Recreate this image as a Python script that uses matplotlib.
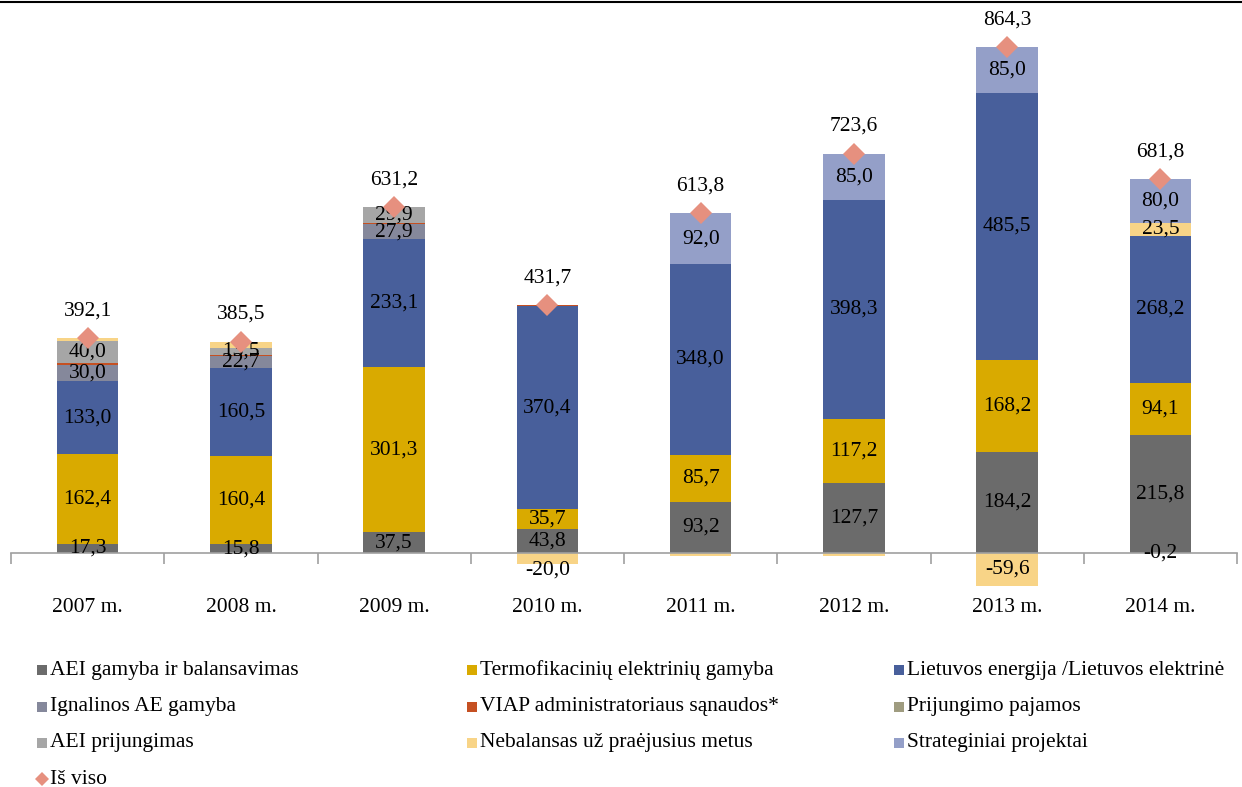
import matplotlib
matplotlib.use("Agg")
import matplotlib.pyplot as plt
from matplotlib.patches import Rectangle
from matplotlib.lines import Line2D
import numpy as np

plt.rcParams['font.family'] = ['Liberation Serif', 'DejaVu Serif']

years = ['2007 m.', '2008 m.', '2009 m.', '2010 m.', '2011 m.', '2012 m.', '2013 m.', '2014 m.']

aei_gamyba = [17.3, 15.8, 37.5, 43.8, 93.2, 127.7, 184.2, 215.8]
termofikacines = [162.4, 160.4, 301.3, 35.7, 85.7, 117.2, 168.2, 94.1]
lietuvos_energija = [133.0, 160.5, 233.1, 370.4, 348.0, 398.3, 485.5, 268.2]
ignalinos = [30.0, 22.7, 27.9, 0.0, 0.0, 0.0, 0.0, -0.2]
viap = [3.0, 1.6, 1.5, 1.8, 0.0, 0.0, 0.0, 0.0]
prijungimo_pajamos = [0.0, 0.0, 0.0, 0.0, 0.0, 0.0, 0.0, 0.0]
aei_prijungimas = [40.0, 13.5, 29.9, 0.0, 0.0, 0.0, 0.0, 0.0]
nebalansas = [6.4, 11.0, 0.0, -20.0, -5.1, -4.6, -59.6, 23.5]
strateginiai = [0.0, 0.0, 0.0, 0.0, 92.0, 85.0, 85.0, 80.0]
totals = [392.1, 385.5, 631.2, 431.7, 613.8, 723.6, 864.3, 681.8]

series_names = ['AEI gamyba ir balansavimas', 'Termofikacinių elektrinių gamyba',
                'Lietuvos energija /Lietuvos elektrinė', 'Ignalinos AE gamyba',
                'VIAP administratoriaus sąnaudos*', 'Prijungimo pajamos',
                'AEI prijungimas', 'Nebalansas už praėjusius metus', 'Strateginiai projektai']
total_name = 'Iš viso'

series = [aei_gamyba, termofikacines, lietuvos_energija, ignalinos, viap,
          prijungimo_pajamos, aei_prijungimas, nebalansas, strateginiai]
colors = ['#6b6b6b', '#d9aa00', '#485f9b', '#85889b', '#c55022',
          '#9f9c80', '#a6a6a6', '#f8d487', '#949fc8']
diamond_color = '#e6907f'

# labels hidden for tiny / overlapping segments: (series index, year index)
hidden = {(7, 0), (7, 1), (7, 4), (7, 5)}

W, H = 1242, 787
fig = plt.figure(figsize=(W / 100, H / 100), dpi=100)
ax_left, ax_right = 11, 1237
ax_top, ax_bottom = 0, 620
ax = fig.add_axes([ax_left / W, 1 - ax_bottom / H, (ax_right - ax_left) / W, (ax_bottom - ax_top) / H])

scale = 0.5486  # px per unit
zero_px = 553
ymax = (zero_px - ax_top) / scale
ymin = -(ax_bottom - zero_px) / scale
ax.set_ylim(ymin, ymax)
n = len(years)
ax.set_xlim(-0.5, n - 0.5)

x = np.arange(n)
bw = 0.4
pos_base = np.zeros(n)
neg_base = np.zeros(n)
FS = 15.5
for si, (vals, c) in enumerate(zip(series, colors)):
    vals = np.array(vals, dtype=float)
    bottoms = np.where(vals >= 0, pos_base, neg_base)
    ax.bar(x, vals, bw, bottom=bottoms, color=c, linewidth=0, zorder=2)
    for i, v in enumerate(vals):
        if v == 0:
            continue
        show = (abs(v) >= 12 or (v < 0 and si == 3)) and si != 4 and (si, i) not in hidden
        if show:
            yc = bottoms[i] + v / 2
            if si == 7 and v < 0 and abs(v) < 30:
                yc = bottoms[i] + v - 11
            ax.text(i, yc, f"{v:.1f}".replace('.', ','), ha='center', va='center',
                    fontsize=FS, color='black', zorder=5)
    pos_base = pos_base + np.where(vals >= 0, vals, 0)
    neg_base = neg_base + np.where(vals < 0, vals, 0)

# totals diamond at top of the positive stack
ax.plot(x, pos_base, linestyle='none', marker='D', markersize=11,
        color=diamond_color, markeredgewidth=0, zorder=6)
for i, t in enumerate(totals):
    ax.annotate(f"{t:.1f}".replace('.', ','), (i, pos_base[i]), xytext=(0, 27),
                textcoords='offset pixels', ha='center', va='center', fontsize=FS, zorder=6)

for s in ['top', 'left', 'right']:
    ax.spines[s].set_visible(False)
ax.spines['bottom'].set_position(('data', 0))
ax.spines['bottom'].set_color('#a0a0a0')
ax.spines['bottom'].set_linewidth(1.2)
ax.set_yticks([])
ax.set_xticks(x)
ax.set_xticklabels([])
ax.tick_params(axis='x', which='major', length=0)
ax.set_xticks(np.arange(n + 1) - 0.5, minor=True)
ax.tick_params(axis='x', which='minor', length=8, color='#a0a0a0', width=1.2, direction='out')
for i, yl in enumerate(years):
    fig.text((ax_left + (i + 0.5) * (ax_right - ax_left) / n) / W, 1 - 607 / H, yl,
             ha='center', va='center', fontsize=FS)

# top border line
fig.add_artist(Line2D([0, 1], [1 - 1.5 / H, 1 - 1.5 / H], color='black', linewidth=1.5))

# manual legend
col_x = [37, 467, 894]
row_y = [670, 707, 743, 779]
order = [[0, 1, 2], [3, 4, 5], [6, 7, 8]]
sq = 10
for r, row in enumerate(order):
    for c, si in enumerate(row):
        fig.add_artist(Rectangle((col_x[c] / W, 1 - (row_y[r] + sq / 2) / H), sq / W, sq / H,
                                 color=colors[si], linewidth=0))
        fig.text((col_x[c] + sq + 3) / W, 1 - row_y[r] / H, series_names[si],
                 ha='left', va='center', fontsize=FS)
fig.add_artist(Line2D([(col_x[0] + sq / 2) / W], [1 - row_y[3] / H], marker='D', markersize=7,
                      color=diamond_color, markeredgewidth=0, linestyle='none'))
fig.text((col_x[0] + sq + 3) / W, 1 - row_y[3] / H, total_name, ha='left', va='center', fontsize=FS)

fig.savefig('out.png', dpi=100)
